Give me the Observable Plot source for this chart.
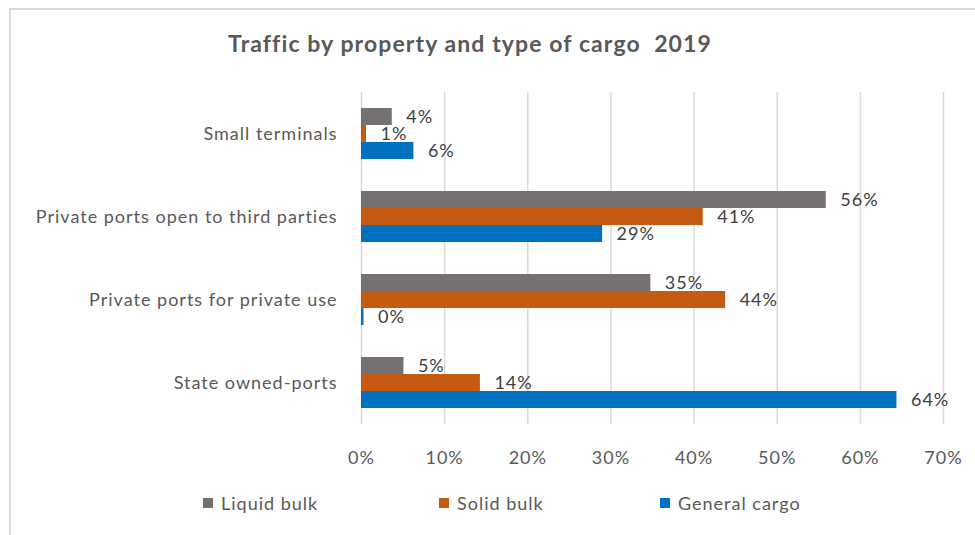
<!DOCTYPE html>
<html>
<head>
<meta charset="utf-8">
<script src="https://cdn.jsdelivr.net/npm/d3@7"></script>
<script src="https://cdn.jsdelivr.net/npm/@observablehq/plot@0.6"></script>
<style>
  html, body { margin: 0; padding: 0; background: #fff; }
  body { width: 975px; height: 535px; overflow: hidden; position: relative; font-family: Lato, "Open Sans", sans-serif; }
  .frame { position: absolute; left: 9px; top: 8px; width: 1000px; height: 600px;
           border-top: 2px solid #d9d9d9; border-left: 2px solid #d9d9d9; pointer-events: none; }
  .title { height: 70px; box-sizing: border-box; padding-top: 29px; width: 940px; text-align: center;
           font-weight: bold; font-size: 23px; letter-spacing: 1.1px; line-height: 28px; color: #595959; white-space: pre; }
  .legend { position: relative; height: 65px; font-size: 18px; letter-spacing: 1px; color: #595959; }
  .legend .item { position: absolute; top: 22px; display: flex; align-items: center; }
  .legend .sw { width: 10px; height: 10px; margin-right: 8px; }
</style>
</head>
<body>
<div class="frame"></div>
<div id="title" class="title"></div>
<div id="chart"></div>
<div id="legend" class="legend"></div>
<script>
const titleText = "Traffic by property and type of cargo  2019";
const categories = ["Small terminals", "Private ports open to third parties", "Private ports for private use", "State owned-ports"];
const seriesNames = ["Liquid bulk", "Solid bulk", "General cargo"];
const liquidBulk = [3.7, 55.9, 34.8, 5.1];
const solidBulk = [0.6, 41.1, 43.8, 14.3];
const generalCargo = [6.3, 29.0, 0.3, 64.4];
const xTicks = [0, 10, 20, 30, 40, 50, 60, 70];
const colors = ["#767171", "#C55A11", "#0070C0"];
const legendLeft = [203, 439, 660];

const seriesValues = [liquidBulk, solidBulk, generalCargo];
const data = categories.flatMap((c, i) =>
  seriesNames.map((s, j) => ({category: c, type: s, value: seriesValues[j][i]})));

document.getElementById("title").textContent = titleText;

const chart = Plot.plot({
  width: 975,
  height: 400,
  marginTop: 22,
  marginBottom: 46,
  marginLeft: 361,
  marginRight: 32,
  style: {fontFamily: "Lato, 'Open Sans', sans-serif", fontSize: "18px", letterSpacing: "1px", color: "#595959", background: "transparent"},
  x: {domain: [0, 70], ticks: xTicks, tickFormat: d => d + "%", label: null, tickSize: 0, tickPadding: 27},
  fy: {domain: categories, padding: 0, label: null, tickSize: 0, tickPadding: 24, axis: "left"},
  y: {domain: seriesNames, paddingInner: 0, paddingOuter: 0.9, axis: null},
  color: {domain: seriesNames, range: colors},
  marks: [
    Plot.ruleX(xTicks, {stroke: "#d9d9d9", strokeWidth: 1.5}),
    Plot.barX(data, {x: "value", y: "type", fy: "category", fill: "type"}),
    Plot.text(data, {x: "value", y: "type", fy: "category", text: d => Math.round(d.value) + "%",
      dx: 14, textAnchor: "start", fill: "#404040", fontSize: 18})
  ]
});
document.getElementById("chart").appendChild(chart);

const legend = document.getElementById("legend");
seriesNames.forEach((s, i) => {
  const item = document.createElement("div");
  item.className = "item";
  item.style.left = legendLeft[i] + "px";
  const sw = document.createElement("span");
  sw.className = "sw";
  sw.style.background = colors[i];
  const label = document.createElement("span");
  label.textContent = s;
  item.appendChild(sw);
  item.appendChild(label);
  legend.appendChild(item);
});
</script>
</body>
</html>
